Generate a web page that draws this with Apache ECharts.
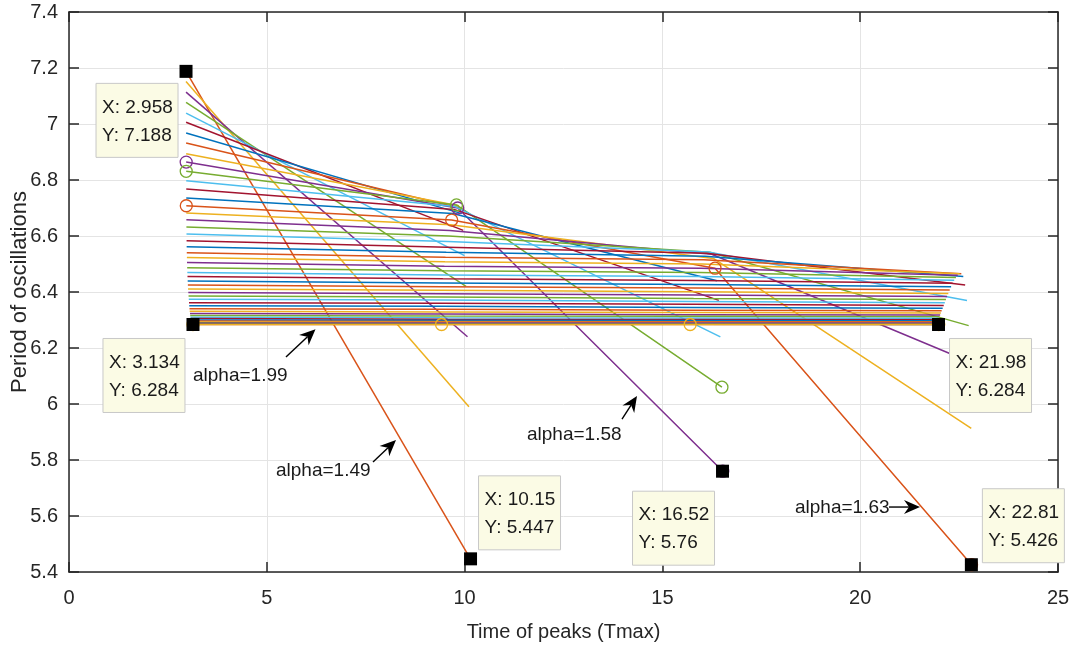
<!DOCTYPE html>
<html>
<head>
<meta charset="utf-8">
<script src="https://cdn.jsdelivr.net/npm/echarts/dist/echarts.min.js"></script>
<style>html,body{margin:0;padding:0;background:#fff}#chart{width:1070px;height:646px}</style>
</head>
<body>
<div id="chart"></div>
<script>
// ---- data ----
const alphas = [1.49,1.50,1.51,1.52,1.53,1.54,1.55,1.56,1.57,1.58,1.59,1.60,1.61,1.62,1.63,1.64,1.65,1.66,1.67,1.68,1.69,1.70,1.71,1.72,1.73,1.74,1.75,1.76,1.77,1.78,1.79,1.80,1.81,1.82,1.83,1.84,1.85,1.86,1.87,1.88,1.89,1.90,1.91,1.92,1.93,1.94,1.95,1.96,1.97,1.98,1.99];

// time of peak k (x) and period of oscillation at that peak (y)
const t1 = [2.958,2.958,2.959,2.959,2.960,2.960,2.961,2.961,2.962,2.962,2.963,2.963,2.964,2.964,2.965,2.966,2.967,2.968,2.970,2.972,2.974,2.977,2.980,2.983,2.987,2.991,2.995,3.000,3.005,3.010,3.016,3.022,3.028,3.034,3.040,3.046,3.052,3.058,3.064,3.070,3.076,3.082,3.088,3.094,3.100,3.106,3.112,3.118,3.123,3.129,3.134];
const p1 = [7.188,7.152,7.114,7.077,7.039,7.006,6.968,6.932,6.894,6.864,6.831,6.797,6.768,6.736,6.708,6.682,6.658,6.632,6.607,6.583,6.562,6.540,6.523,6.505,6.487,6.470,6.455,6.439,6.425,6.411,6.398,6.386,6.374,6.362,6.351,6.340,6.331,6.323,6.316,6.310,6.305,6.300,6.296,6.293,6.290,6.288,6.287,6.286,6.285,6.284,6.284];

const t2 = [10.146,10.110,10.073,10.036,9.999,9.966,9.929,9.893,9.856,9.826,9.794,9.760,9.732,9.700,9.673,9.648,9.625,9.600,9.577,9.555,9.536,9.517,9.503,9.488,9.474,9.461,9.450,9.439,9.430,9.421,9.414,9.408,9.402,9.396,9.391,9.386,9.383,9.381,9.380,9.380,9.381,9.382,9.384,9.387,9.390,9.394,9.399,9.404,9.408,9.413,9.418];
const p2 = [5.447,5.990,6.240,6.420,6.530,6.620,6.680,6.700,6.708,6.700,6.711,6.705,6.695,6.680,6.657,6.640,6.620,6.600,6.580,6.560,6.542,6.524,6.508,6.492,6.476,6.461,6.447,6.432,6.419,6.406,6.394,6.382,6.371,6.360,6.349,6.338,6.329,6.321,6.314,6.308,6.303,6.299,6.295,6.292,6.289,6.287,6.286,6.285,6.285,6.284,6.284];

const t3 = [null,null,null,null,null,null,null,null,null,16.526,16.505,16.465,16.427,16.380,16.330,16.288,16.245,16.200,16.157,16.115,16.078,16.041,16.011,15.980,15.950,15.922,15.897,15.871,15.849,15.827,15.808,15.790,15.773,15.756,15.740,15.724,15.712,15.702,15.694,15.688,15.684,15.681,15.679,15.679,15.679,15.681,15.685,15.689,15.693,15.697,15.702];
const p3 = [null,null,null,null,null,null,null,null,null,5.760,6.060,6.240,6.370,6.440,6.485,6.520,6.535,6.542,6.543,6.538,6.528,6.515,6.500,6.485,6.470,6.455,6.441,6.427,6.414,6.401,6.389,6.377,6.366,6.356,6.345,6.335,6.327,6.319,6.313,6.307,6.302,6.298,6.294,6.291,6.289,6.287,6.286,6.285,6.285,6.284,6.284];

const t4 = [null,null,null,null,null,null,null,null,null,null,null,null,null,null,22.815,22.808,22.780,22.742,22.700,22.653,22.606,22.556,22.511,22.465,22.420,22.377,22.338,22.298,22.263,22.228,22.197,22.167,22.139,22.112,22.085,22.059,22.039,22.021,22.007,21.995,21.986,21.979,21.973,21.970,21.968,21.968,21.971,21.974,21.978,21.981,21.986];
const p4 = [null,null,null,null,null,null,null,null,null,null,null,null,null,null,5.426,5.913,6.150,6.280,6.370,6.425,6.455,6.465,6.465,6.460,6.452,6.442,6.431,6.419,6.407,6.395,6.384,6.373,6.362,6.352,6.342,6.333,6.325,6.318,6.312,6.306,6.301,6.297,6.294,6.291,6.289,6.287,6.286,6.285,6.284,6.284,6.284];

// curves drawn with circle markers
const markedAlphas = [1.58, 1.59, 1.63, 1.99];

// data tips
const tipX = [2.958, 3.134, 10.15, 16.52, 21.98, 22.81];
const tipY = [7.188, 6.284, 5.447, 5.76, 6.284, 5.426];

// text annotations with arrows (data coordinates)
const annTexts = ['alpha=1.99', 'alpha=1.49', 'alpha=1.58', 'alpha=1.63'];
const annTextX = [3.134, 5.233, 11.577, 18.352];
const annTextY = [6.100, 5.761, 5.889, 5.629];
const arrowFromX = [5.485, 7.685, 13.979, 20.728];
const arrowFromY = [6.168, 5.793, 5.946, 5.632];
const arrowToX = [6.231, 8.266, 14.358, 21.512];
const arrowToY = [6.267, 5.871, 6.029, 5.632];

// axes
const xTickLabels = ['0','5','10','15','20','25'];
const yTickLabels = ['5.4','5.6','5.8','6','6.2','6.4','6.6','6.8','7','7.2','7.4'];
const xTitle = 'Time of peaks (Tmax)';
const yTitle = 'Period of oscillations';

// ---- styling / layout ----
const FONT = "'Liberation Sans', Arial, Helvetica, sans-serif";
const colorOrder = ['#0072BD','#D95319','#EDB120','#7E2F8E','#77AC30','#4DBEEE','#A2142F'];
const AXIS_COLOR = '#262626';
const tipBoxOffset = [[-90, 12], [-90, 14], [8, -83], [-90, 20], [11, 14], [11, -76]];
const TIP_W = 82, TIP_H = 74;

const xMin = Number(xTickLabels[0]), xMax = Number(xTickLabels[xTickLabels.length-1]);
const xInt = Number(xTickLabels[1]) - xMin;
const yMin = Number(yTickLabels[0]), yMax = Number(yTickLabels[yTickLabels.length-1]);
const yInt = 0.2;

const series = [];
alphas.forEach((a, i) => {
  const pts = [[t1[i], p1[i]], [t2[i], p2[i]], [t3[i], p3[i]], [t4[i], p4[i]]].filter(p => p[0] != null);
  const c = colorOrder[(i + 1) % colorOrder.length];
  const marked = markedAlphas.includes(a);
  series.push({
    type: 'line', name: 'alpha=' + a.toFixed(2), data: pts,
    showSymbol: marked, symbol: 'circle', symbolSize: 12,
    lineStyle: { color: c, width: 1.5 },
    itemStyle: { color: 'rgba(255,255,255,0)', borderColor: c, borderWidth: 1.3 },
    silent: true, animation: false, z: 2, emphasis: { disabled: true }
  });
});
series.push({
  type: 'scatter', name: 'datatips', data: tipX.map((x, i) => [x, tipY[i]]),
  symbol: 'rect', symbolSize: 13, itemStyle: { color: '#000', opacity: 1 }, z: 10, silent: true, animation: false
});

const axisLineStyle = { color: AXIS_COLOR, width: 1.5 };
const option = {
  backgroundColor: '#fff',
  animation: false,
  grid: { left: 69, right: 12, top: 12, bottom: 74, containLabel: false, outerBoundsMode: 'none' },
  xAxis: [
    { type: 'value', min: xMin, max: xMax, interval: xInt, position: 'bottom',
      axisLine: { show: true, onZero: false, lineStyle: axisLineStyle },
      axisTick: { show: true, inside: true, length: 10, lineStyle: axisLineStyle },
      axisLabel: { show: true, fontSize: 20, fontFamily: FONT, color: AXIS_COLOR, margin: 16,
        showMinLabel: true, showMaxLabel: true, hideOverlap: false,
        formatter: v => xTickLabels[Math.round((v - xMin) / xInt)] },
      splitLine: { show: true, lineStyle: { color: '#e4e4e4', width: 1 } },
      name: xTitle, nameLocation: 'middle', nameGap: 50, nameMoveOverlap: false,
      nameTextStyle: { fontSize: 20, fontFamily: FONT, color: AXIS_COLOR } },
    { type: 'value', min: xMin, max: xMax, interval: xInt, position: 'top',
      axisLine: { show: true, onZero: false, lineStyle: axisLineStyle },
      axisTick: { show: true, inside: true, length: 10, lineStyle: axisLineStyle },
      axisLabel: { show: false }, splitLine: { show: false } }
  ],
  yAxis: [
    { type: 'value', min: yMin, max: yMax, interval: yInt, position: 'left',
      axisLine: { show: true, onZero: false, lineStyle: axisLineStyle },
      axisTick: { show: true, inside: true, length: 10, lineStyle: axisLineStyle },
      axisLabel: { show: true, fontSize: 20, fontFamily: FONT, color: AXIS_COLOR, margin: 11,
        showMinLabel: true, showMaxLabel: true, hideOverlap: false,
        formatter: v => yTickLabels[Math.round((v - yMin) / yInt)] },
      splitLine: { show: true, lineStyle: { color: '#e4e4e4', width: 1 } },
      name: yTitle, nameLocation: 'middle', nameGap: 38, nameRotate: 90, nameMoveOverlap: false,
      nameTextStyle: { fontSize: 22, fontFamily: FONT, color: AXIS_COLOR } },
    { type: 'value', min: yMin, max: yMax, interval: yInt, position: 'right',
      axisLine: { show: true, onZero: false, lineStyle: axisLineStyle },
      axisTick: { show: true, inside: true, length: 10, lineStyle: axisLineStyle },
      axisLabel: { show: false }, splitLine: { show: false } }
  ],
  series: series
};

const chart = echarts.init(document.getElementById('chart'), null, { renderer: 'canvas' });
chart.setOption(option);

const toPx = (x, y) => chart.convertToPixel({ xAxisIndex: 0, yAxisIndex: 0 }, [x, y]);
const graphics = [];

// data tip boxes
tipX.forEach((x, i) => {
  const [px, py] = toPx(x, tipY[i]);
  const [dx, dy] = tipBoxOffset[i];
  graphics.push({
    type: 'group', x: px + dx, y: py + dy, z: 100,
    children: [
      { type: 'rect', shape: { x: 0, y: 0, width: TIP_W, height: TIP_H },
        style: { fill: '#FBFBE5', stroke: '#C8C8C8', lineWidth: 1 }, z: 100 },
      { type: 'text', x: 6, y: 24, z: 101,
        style: { text: 'X: ' + x, fontSize: 19, fontFamily: FONT, fill: '#1a1a1a', align: 'left', verticalAlign: 'middle' } },
      { type: 'text', x: 6, y: 52, z: 101,
        style: { text: 'Y: ' + tipY[i], fontSize: 19, fontFamily: FONT, fill: '#1a1a1a', align: 'left', verticalAlign: 'middle' } }
    ]
  });
});

// annotations
annTexts.forEach((t, i) => {
  const [tx, ty] = toPx(annTextX[i], annTextY[i]);
  graphics.push({ type: 'text', x: tx, y: ty, z: 90,
    style: { text: t, fontSize: 19, fontFamily: FONT, fill: '#1a1a1a', align: 'left', verticalAlign: 'middle' } });
  const [ax, ay] = toPx(arrowFromX[i], arrowFromY[i]);
  const [bx, by] = toPx(arrowToX[i], arrowToY[i]);
  const len = Math.hypot(bx - ax, by - ay);
  const ux = (bx - ax) / len, uy = (by - ay) / len;
  const nx = -uy, ny = ux;
  const L = 16, W = 7, N = 5;
  const back = [bx - ux * (L - N), by - uy * (L - N)];
  graphics.push({ type: 'line', z: 90,
    shape: { x1: ax, y1: ay, x2: back[0], y2: back[1] },
    style: { stroke: '#000', lineWidth: 1.4 } });
  graphics.push({ type: 'polygon', z: 91,
    shape: { points: [[bx, by], [bx - ux * L + nx * W, by - uy * L + ny * W], back, [bx - ux * L - nx * W, by - uy * L - ny * W]] },
    style: { fill: '#000' } });
});

chart.setOption({ graphic: graphics });
</script>
</body>
</html>
